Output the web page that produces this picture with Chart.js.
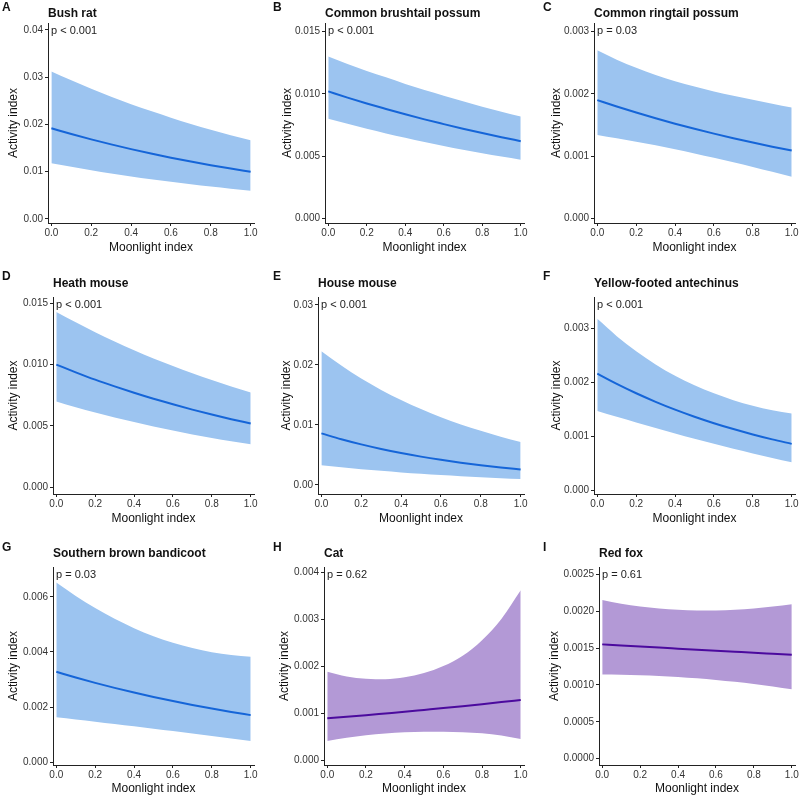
<!DOCTYPE html>
<html lang="en">
<head>
<meta charset="UTF-8">
<title>Activity index vs moonlight</title>
<style>
  body { margin: 0; background: #fff; }
  #wrap { position: relative; width: 799px; height: 796px; overflow: hidden; }
  #wrap canvas { position: absolute; }
</style>
</head>
<body>
<div id="wrap"></div>
<script src="https://cdn.jsdelivr.net/npm/chart.js"></script>
<script>
// values
const moonlight = [0, 0.1, 0.2, 0.3, 0.4, 0.5, 0.6, 0.7, 0.8, 0.9, 1.0];
const xTicks = [0, 0.2, 0.4, 0.6, 0.8, 1.0];
const xTickLabels = ['0.0', '0.2', '0.4', '0.6', '0.8', '1.0'];

const letters = ['A', 'B', 'C', 'D', 'E', 'F', 'G', 'H', 'I'];
const species = ['Bush rat', 'Common brushtail possum', 'Common ringtail possum', 'Heath mouse', 'House mouse',
  'Yellow-footed antechinus', 'Southern brown bandicoot', 'Cat', 'Red fox'];
const pValues = ['p < 0.001', 'p < 0.001', 'p = 0.03', 'p < 0.001', 'p < 0.001', 'p < 0.001', 'p = 0.03', 'p = 0.62', 'p = 0.61'];

const bushRatFit   = [0.01920, 0.01799, 0.01685, 0.01579, 0.01479, 0.01386, 0.01298, 0.01216, 0.01139, 0.01067, 0.01000];
const bushRatLower = [0.01180, 0.01103, 0.01031, 0.00963, 0.00900, 0.00841, 0.00786, 0.00735, 0.00687, 0.00642, 0.00600];
const bushRatUpper = [0.03124, 0.02934, 0.02754, 0.02589, 0.02430, 0.02284, 0.02144, 0.02012, 0.01888, 0.01773, 0.01667];

const brushtailFit   = [0.01020, 0.00970, 0.00923, 0.00879, 0.00836, 0.00795, 0.00757, 0.00720, 0.00685, 0.00652, 0.00620];
const brushtailLower = [0.00800, 0.00759, 0.00719, 0.00682, 0.00647, 0.00613, 0.00581, 0.00551, 0.00523, 0.00496, 0.00470];
const brushtailUpper = [0.01301, 0.01240, 0.01185, 0.01133, 0.01080, 0.01031, 0.00986, 0.00941, 0.00897, 0.00857, 0.00818];

const ringtailFit   = [0.001900, 0.001797, 0.001700, 0.001608, 0.001521, 0.001439, 0.001361, 0.001288, 0.001218, 0.001152, 0.001090];
const ringtailLower = [0.001340, 0.001287, 0.001232, 0.001173, 0.001110, 0.001043, 0.000973, 0.000900, 0.000825, 0.000748, 0.000670];
const ringtailUpper = [0.002700, 0.002550, 0.002420, 0.002305, 0.002205, 0.002118, 0.002040, 0.001970, 0.001905, 0.001840, 0.001780];

const heathFit   = [0.01000, 0.00937, 0.00877, 0.00822, 0.00770, 0.00721, 0.00676, 0.00633, 0.00593, 0.00555, 0.00520];
const heathLower = [0.00700, 0.00653, 0.00609, 0.00569, 0.00531, 0.00495, 0.00462, 0.00431, 0.00402, 0.00375, 0.00350];
const heathUpper = [0.01429, 0.01345, 0.01263, 0.01188, 0.01117, 0.01050, 0.00989, 0.00930, 0.00875, 0.00821, 0.00773];

const houseMouseFit   = [0.00860, 0.00763, 0.00677, 0.00601, 0.00533, 0.00473, 0.00420, 0.00372, 0.00330, 0.00293, 0.00260];
const houseMouseLower = [0.00330, 0.00295, 0.00264, 0.00236, 0.00210, 0.00187, 0.00166, 0.00147, 0.00130, 0.00114, 0.00100];
const houseMouseUpper = [0.02230, 0.01990, 0.01775, 0.01585, 0.01415, 0.01265, 0.01130, 0.01010, 0.00902, 0.00805, 0.00715];

const antechinusFit   = [0.002160, 0.001970, 0.001797, 0.001639, 0.001494, 0.001363, 0.001243, 0.001134, 0.001034, 0.000943, 0.000860];
const antechinusLower = [0.001470, 0.001360, 0.001255, 0.001153, 0.001053, 0.000955, 0.000860, 0.000770, 0.000683, 0.000600, 0.000520];
const antechinusUpper = [0.003175, 0.002855, 0.002575, 0.002330, 0.002120, 0.001945, 0.001797, 0.001670, 0.001565, 0.001482, 0.001422];

const bandicootFit   = [0.003280, 0.003073, 0.002879, 0.002698, 0.002528, 0.002368, 0.002219, 0.002079, 0.001948, 0.001825, 0.001710];
const bandicootLower = [0.001630, 0.001550, 0.001470, 0.001388, 0.001305, 0.001220, 0.001133, 0.001045, 0.000955, 0.000863, 0.000770];
const bandicootUpper = [0.00652, 0.00603, 0.00559, 0.00520, 0.00486, 0.00457, 0.00433, 0.00414, 0.00399, 0.00389, 0.00383];

const catFit   = [0.000900, 0.000933, 0.000967, 0.001003, 0.001039, 0.001078, 0.001117, 0.001158, 0.001201, 0.001245, 0.001290];
const catLower = [0.000420, 0.000488, 0.000540, 0.000578, 0.000603, 0.000616, 0.000617, 0.000606, 0.000581, 0.000535, 0.000462];
const catUpper = [0.00189, 0.00179, 0.00174, 0.00173, 0.00177, 0.00186, 0.00201, 0.00223, 0.00256, 0.00301, 0.00362];

const foxFit   = [0.001550, 0.001535, 0.001521, 0.001506, 0.001492, 0.001478, 0.001464, 0.001450, 0.001436, 0.001423, 0.001410];
const foxLower = [0.001140, 0.001138, 0.001132, 0.001122, 0.001108, 0.001090, 0.001068, 0.001042, 0.001012, 0.000978, 0.000940];
const foxUpper = [0.002150, 0.002100, 0.002062, 0.002035, 0.002018, 0.002010, 0.002010, 0.002018, 0.002035, 0.002062, 0.002095];

// y tick values and labels per panel
const yTicksA = [0, 0.01, 0.02, 0.03, 0.04];       const yLabelsA = ['0.00', '0.01', '0.02', '0.03', '0.04'];
const yTicksB = [0, 0.005, 0.010, 0.015];          const yLabelsB = ['0.000', '0.005', '0.010', '0.015'];
const yTicksC = [0, 0.001, 0.002, 0.003];          const yLabelsC = ['0.000', '0.001', '0.002', '0.003'];
const yTicksD = [0, 0.005, 0.010, 0.015];          const yLabelsD = ['0.000', '0.005', '0.010', '0.015'];
const yTicksE = [0, 0.01, 0.02, 0.03];             const yLabelsE = ['0.00', '0.01', '0.02', '0.03'];
const yTicksF = [0, 0.001, 0.002, 0.003];          const yLabelsF = ['0.000', '0.001', '0.002', '0.003'];
const yTicksG = [0, 0.002, 0.004, 0.006];          const yLabelsG = ['0.000', '0.002', '0.004', '0.006'];
const yTicksH = [0, 0.001, 0.002, 0.003, 0.004];   const yLabelsH = ['0.000', '0.001', '0.002', '0.003', '0.004'];
const yTicksI = [0, 0.0005, 0.0010, 0.0015, 0.0020, 0.0025];
const yLabelsI = ['0.0000', '0.0005', '0.0010', '0.0015', '0.0020', '0.0025'];

const series = [
  [bushRatFit, bushRatLower, bushRatUpper, yTicksA, yLabelsA],
  [brushtailFit, brushtailLower, brushtailUpper, yTicksB, yLabelsB],
  [ringtailFit, ringtailLower, ringtailUpper, yTicksC, yLabelsC],
  [heathFit, heathLower, heathUpper, yTicksD, yLabelsD],
  [houseMouseFit, houseMouseLower, houseMouseUpper, yTicksE, yLabelsE],
  [antechinusFit, antechinusLower, antechinusUpper, yTicksF, yLabelsF],
  [bandicootFit, bandicootLower, bandicootUpper, yTicksG, yLabelsG],
  [catFit, catLower, catUpper, yTicksH, yLabelsH],
  [foxFit, foxLower, foxUpper, yTicksI, yLabelsI]
];

// layout: canvas box, plot area (page px), y range, y-title centre x
const layout = [
  { box: [0, 0, 265, 265],     area: [48, 23, 254, 223],   y: [-0.00085, 0.04148],    yTitleX: 14 },
  { box: [265, 0, 265, 265],   area: [325, 23, 524, 223],  y: [-0.00038, 0.0157],     yTitleX: 288 },
  { box: [530, 0, 269, 265],   area: [594, 23, 795, 223],  y: [-0.0000756, 0.00314],  yTitleX: 557 },
  { box: [0, 265, 265, 265],   area: [53, 297, 254, 494],  y: [-0.00055, 0.01551],    yTitleX: 14 },
  { box: [265, 265, 265, 265], area: [318, 297, 524, 494], y: [-0.0015, 0.03133],     yTitleX: 287 },
  { box: [530, 265, 269, 265], area: [594, 297, 795, 494], y: [-0.0000685, 0.00358],  yTitleX: 557 },
  { box: [0, 530, 265, 266],   area: [53, 567, 254, 765],  y: [-0.0000978, 0.00708],  yTitleX: 14 },
  { box: [265, 530, 265, 266], area: [324, 567, 524, 765], y: [-0.0000913, 0.004113], yTitleX: 285 },
  { box: [530, 530, 269, 266], area: [599, 567, 795, 765], y: [-0.0000854, 0.002599], yTitleX: 555 }
];
const letterX = [2, 8, 13];
const letterY = [7.5, 12, 18];
const titleY = [13.3, 18.3, 24];
const xTitleOffset = [25, 25, 24];

const FONT = "'Liberation Sans', Arial, sans-serif";
const BLUE_BAND = '#9cc4f0', BLUE_LINE = '#1565d8';
const PURPLE_BAND = '#b399d6', PURPLE_LINE = '#4b0a9e';

// panel letter, species title and p-value
const panelText = {
  id: 'panelText',
  afterDraw(chart, args, opts) {
    const ctx = chart.ctx, area = chart.chartArea;
    ctx.save();
    ctx.textBaseline = 'middle';
    ctx.textAlign = 'left';
    ctx.fillStyle = '#111';
    ctx.font = 'bold 12px ' + FONT;
    ctx.fillText(opts.letter, opts.letterX, opts.letterY);
    ctx.fillText(opts.title, area.left, opts.titleY);
    ctx.font = '11px ' + FONT;
    ctx.fillStyle = '#222';
    ctx.fillText(opts.p, area.left + 3, area.top + 8);
    ctx.restore();
  }
};

const wrap = document.getElementById('wrap');

series.forEach((s, i) => {
  const [fit, lower, upper, yTicks, yLabels] = s;
  const lay = layout[i];
  const [cl, ct, cw, ch] = lay.box;
  const [L, T, R, B] = lay.area;
  const row = Math.floor(i / 3), col = i % 3;
  const purple = i >= 7;
  const xh = ct + ch - B;

  const canvas = document.createElement('canvas');
  canvas.width = cw;
  canvas.height = ch;
  canvas.style.left = cl + 'px';
  canvas.style.top = ct + 'px';
  wrap.appendChild(canvas);

  const pts = arr => moonlight.map((x, j) => ({ x: x, y: arr[j] }));

  new Chart(canvas, {
    type: 'line',
    data: {
      datasets: [
        { data: pts(fit), borderColor: purple ? PURPLE_LINE : BLUE_LINE, borderWidth: 2,
          pointRadius: 0, fill: false, cubicInterpolationMode: 'monotone' },
        { data: pts(upper), borderColor: 'rgba(0,0,0,0)', borderWidth: 0, pointRadius: 0,
          backgroundColor: purple ? PURPLE_BAND : BLUE_BAND, fill: '+1', cubicInterpolationMode: 'monotone' },
        { data: pts(lower), borderColor: 'rgba(0,0,0,0)', borderWidth: 0, pointRadius: 0,
          fill: false, cubicInterpolationMode: 'monotone' }
      ]
    },
    options: {
      responsive: false,
      animation: false,
      devicePixelRatio: 1,
      layout: { padding: { left: 0, top: T - ct, right: cl + cw - R, bottom: 0 } },
      plugins: {
        legend: { display: false },
        tooltip: { enabled: false },
        panelText: {
          letter: letters[i], title: species[i], p: pValues[i],
          letterX: letterX[col], letterY: letterY[row], titleY: titleY[row]
        }
      },
      scales: {
        x: {
          type: 'linear',
          min: -0.017,
          max: 1.017,
          afterBuildTicks: sc => { sc.ticks = xTicks.map(v => ({ value: v })); },
          afterFit: sc => { sc.height = xh; sc.paddingLeft = 0; sc.paddingRight = 0; },
          ticks: {
            autoSkip: false, maxRotation: 0, padding: 1, color: '#333',
            font: { family: FONT, size: 10 },
            callback: (v, idx) => xTickLabels[idx]
          },
          grid: { drawOnChartArea: false, drawTicks: true, tickLength: 3, color: '#222' },
          border: { display: true, color: '#222', width: 1 },
          title: {
            display: true, text: 'Moonlight index', color: '#111',
            font: { family: FONT, size: 12 },
            padding: { top: 0, bottom: xh - xTitleOffset[row] - 7.2 }
          }
        },
        y: {
          type: 'linear',
          min: lay.y[0],
          max: lay.y[1],
          afterBuildTicks: sc => { sc.ticks = yTicks.map(v => ({ value: v })); },
          afterFit: sc => { sc.width = L - cl; sc.paddingTop = 0; sc.paddingBottom = 0; },
          ticks: {
            autoSkip: false, padding: 2, color: '#333',
            font: { family: FONT, size: 10 },
            callback: (v, idx) => yLabels[idx]
          },
          grid: { drawOnChartArea: false, drawTicks: true, tickLength: 3, color: '#222' },
          border: { display: true, color: '#222', width: 1 },
          title: {
            display: true, text: 'Activity index', color: '#111',
            font: { family: FONT, size: 12 },
            padding: { top: lay.yTitleX - cl - 7.2, bottom: 0 }
          }
        }
      }
    },
    plugins: [panelText]
  });
});
</script>
</body>
</html>
